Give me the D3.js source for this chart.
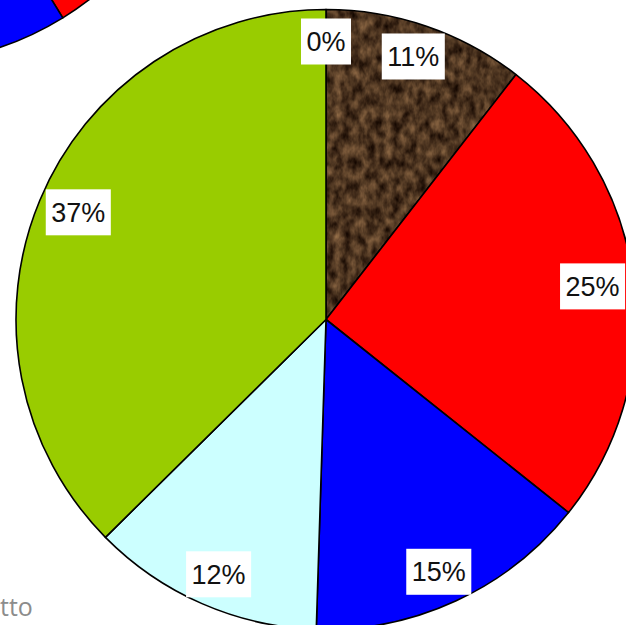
<!DOCTYPE html>
<html>
<head>
<meta charset="utf-8">
<script src="https://cdn.jsdelivr.net/npm/d3@7"></script>
<style>
  html, body { margin: 0; padding: 0; background: #fff; }
  svg { display: block; }
</style>
</head>
<body>
<svg id="chart" width="626" height="625"></svg>
<script>
// ---- data ----
const categories = ["Cat. 0", "Cat. 1", "Cat. 2", "Cat. 3", "Cat. 4", "Cat. 5"];
const mainValues = [0, 10.5, 25.2, 14.8, 12.1, 37.4];      // main pie (percent)
const cornerValues = [0, 12, 29.2, 20, 12.3, 26.5];         // neighbouring pie, mostly off-screen
const facetTitle = "tto";                                   // visible tail of a neighbouring facet title

// ---- styles ----
const sliceColors = ["#ffffff", "url(#bark)", "#ff0000", "#0000ff", "#ccffff", "#99cc00"];
const W = 626, H = 625;
const R = 310;

const svg = d3.select("#chart");
const defs = svg.append("defs");

// brown "bark" texture
const filt = defs.append("filter").attr("id", "barkNoise")
  .attr("filterUnits", "userSpaceOnUse")
  .attr("color-interpolation-filters", "sRGB")
  .attr("x", 0).attr("y", 0).attr("width", W).attr("height", H);
filt.append("feTurbulence").attr("type", "fractalNoise")
  .attr("baseFrequency", "0.12 0.08").attr("numOctaves", 4).attr("seed", 11).attr("result", "n");
filt.append("feColorMatrix").attr("in", "n").attr("type", "matrix")
  .attr("values", [
    0.62, 0, 0, 0, -0.01,
    0.50, 0, 0, 0, -0.045,
    0.35, 0, 0, 0, -0.05,
    0, 0, 0, 0, 1
  ].join(" "));
const pat = defs.append("pattern").attr("id", "bark")
  .attr("patternUnits", "userSpaceOnUse").attr("x", 0).attr("y", 0)
  .attr("width", W).attr("height", H);
pat.append("rect").attr("width", W).attr("height", H).attr("fill", "#5a3e28");
pat.append("rect").attr("width", W).attr("height", H).attr("filter", "url(#barkNoise)");

const color = d3.scaleOrdinal().domain(categories).range(sliceColors);
const pie = d3.pie().sort(null).value(d => d.v).startAngle(0).endAngle(2 * Math.PI);
const arc = d3.arc().innerRadius(0).outerRadius(R);
const pctFmt = d3.format(".0%");

function drawPie(values, cx, cy) {
  const data = categories.map((c, i) => ({ c, v: values[i] }));
  const total = d3.sum(values);
  const arcs = pie(data);
  const g = svg.append("g").attr("transform", `translate(${cx},${cy})`);
  g.selectAll("path.slice").data(arcs).enter().append("path")
    .attr("class", "slice")
    .attr("d", arc)
    .attr("fill", d => color(d.data.c))
    .attr("stroke", "#000")
    .attr("stroke-width", 1.6)
    .attr("stroke-linejoin", "round");
  return { g, arcs, total };
}

function drawLabels(p) {
  const fs = 27, padX = 5.5, boxH = 46, Rb = 301;
  const lg = p.g.append("g").attr("class", "labels");
  p.arcs.forEach(d => {
    const a = (d.startAngle + d.endAngle) / 2;
    const ux = Math.sin(a), uy = -Math.cos(a);
    const lab = lg.append("g");
    const t = lab.append("text")
      .attr("font-family", "'Liberation Sans', Arial, Helvetica, sans-serif")
      .attr("font-size", fs)
      .attr("fill", "#111")
      .attr("text-anchor", "middle")
      .text(pctFmt(d.data.v / p.total));
    const tw = t.node().getComputedTextLength();
    const hw = tw / 2 + padX, hh = boxH / 2;
    const cx = Rb * ux - hw * ux;
    const cy = Rb * uy - hh * uy;
    lab.insert("rect", "text")
      .attr("x", cx - hw).attr("y", cy - hh)
      .attr("width", 2 * hw).attr("height", boxH)
      .attr("fill", "#fff");
    t.attr("x", cx).attr("y", cy + fs * 0.716 / 2);
  });
}

// neighbouring facet (its labels fall outside the view)
drawPie(cornerValues, -100, -246);
const main = drawPie(mainValues, 326, 319.5);
drawLabels(main);

svg.append("text")
  .attr("x", 0).attr("y", 616)
  .attr("font-family", "'Open Sans', 'Noto Sans', sans-serif")
  .attr("font-size", 25)
  .attr("fill", "#8c8c8c")
  .text(facetTitle);
</script>
</body>
</html>
